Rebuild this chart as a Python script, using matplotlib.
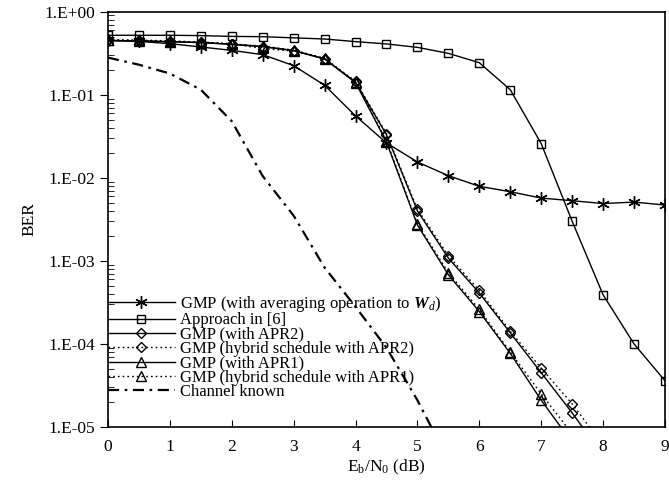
import matplotlib.pyplot as plt
import numpy as np

plt.rcParams['font.family'] = ['Liberation Serif', 'DejaVu Serif']
plt.rcParams['mathtext.fontset'] = 'custom'
plt.rcParams['mathtext.rm'] = 'Liberation Serif'
plt.rcParams['mathtext.it'] = 'Liberation Serif:italic'
plt.rcParams['mathtext.bf'] = 'Liberation Serif:bold:italic'

# Eb/N0 grid (dB)
snr = [0, 0.5, 1, 1.5, 2, 2.5, 3, 3.5, 4, 4.5, 5, 5.5, 6, 6.5, 7, 7.5, 8, 8.5, 9]

ber_avg = [0.451, 0.439, 0.412, 0.376, 0.342, 0.304, 0.224, 0.130, 0.0556, 0.0263,
           0.0155, 0.0106, 0.0079, 0.0068, 0.0057, 0.0053, 0.0049, 0.0051, 0.0047]
ber_ref6 = [0.52, 0.52, 0.52, 0.515, 0.504, 0.50, 0.484, 0.469, 0.436, 0.409,
            0.372, 0.315, 0.243, 0.115, 0.0258, 0.0030, 3.9e-4, 1.0e-4, 3.6e-5]

# curves with APR (stop below the plotted range)
snr_apr2 = snr[:17]
ber_apr2 = [0.45, 0.445, 0.435, 0.425, 0.405, 0.38, 0.34, 0.27, 0.142, 0.033,
            0.0040, 0.00108, 4.1e-4, 1.36e-4, 4.5e-5, 1.48e-5, 4.5e-6]
ber_apr2_hyb = [0.455, 0.45, 0.44, 0.43, 0.41, 0.36, 0.335, 0.27, 0.145, 0.034,
                0.0042, 0.00115, 4.4e-4, 1.42e-4, 5.1e-5, 1.9e-5, 6.0e-6]
snr_apr1 = snr[:16]
ber_apr1 = [0.45, 0.445, 0.435, 0.425, 0.405, 0.38, 0.34, 0.27, 0.14, 0.027,
            0.0027, 6.8e-4, 2.45e-4, 7.7e-5, 2.1e-5, 6.5e-6]
ber_apr1_hyb = [0.46, 0.455, 0.445, 0.43, 0.41, 0.385, 0.345, 0.275, 0.143, 0.028,
                0.0028, 7.2e-4, 2.6e-4, 8.0e-5, 2.5e-5, 8.3e-6]

snr_ck = snr[:12]
ber_ck = [0.28, 0.23, 0.18, 0.115, 0.048, 0.0105, 0.0035, 8.3e-4, 2.8e-4,
          9.0e-5, 2.1e-5, 4.0e-6]

labels = ['GMP (with averaging operation to $\\mathbf{W}_d$)',
          'Approach in [6]',
          'GMP (with APR2)',
          'GMP (hybrid schedule with APR2)',
          'GMP (with APR1)',
          'GMP (hybrid schedule with APR1)',
          'Channel known']

fig = plt.figure(figsize=(6.69, 4.95), dpi=100)
ax = fig.add_axes([0.1614, 0.1374, 0.8326, 0.8390])

mk = dict(color='black', lw=1.0, mfc='none', mec='black', mew=1.0)
ax.plot(snr, ber_avg, marker=(6, 2, 0), ms=9, label=labels[0], **mk)
ax.plot(snr, ber_ref6, marker='s', ms=6, label=labels[1], **mk)
ax.plot(snr_apr2, ber_apr2, marker='D', ms=5, label=labels[2], **mk)
ax.plot(snr_apr2, ber_apr2_hyb, marker='D', ms=5, ls=(0, (1.2, 2.2)), label=labels[3], **mk)
ax.plot(snr_apr1, ber_apr1, marker='^', ms=6.5, label=labels[4], **mk)
ax.plot(snr_apr1, ber_apr1_hyb, marker='^', ms=6.5, ls=(0, (1.2, 2.2)), label=labels[5], **mk)
ax.plot(snr_ck, ber_ck, color='black', lw=1.6, ls=(0, (5, 2.5, 1.2, 2.5)), label=labels[6])

ax.set_yscale('log')
ax.set_ylim(1e-5, 1)
ax.set_xlim(0, 9)
ax.set_xticks(range(10))
ax.set_yticks([1e0, 1e-1, 1e-2, 1e-3, 1e-4, 1e-5])
ax.set_yticklabels(['1.E+00', '1.E-01', '1.E-02', '1.E-03', '1.E-04', '1.E-05'])
ax.tick_params(axis='x', direction='in', length=5, labelsize=12.5, pad=9)
ax.tick_params(axis='y', which='major', direction='out', length=6, labelsize=12.5, pad=3)
ax.tick_params(axis='y', which='minor', direction='in', length=4)
for s in ax.spines.values():
    s.set_linewidth(1.2)

ax.set_xlabel('E$_{\\mathrm{b}}$/N$_{0}$ (dB)', fontsize=12.5, labelpad=2)
ax.set_ylabel('BER', fontsize=12.5, labelpad=5)

ax.legend(loc='upper left', bbox_to_anchor=(0.0, 0.32), frameon=False, fontsize=12,
          handlelength=4.0, handletextpad=0.3, labelspacing=-0.1, borderpad=0,
          borderaxespad=0)

fig.savefig('out.png', dpi=100)
